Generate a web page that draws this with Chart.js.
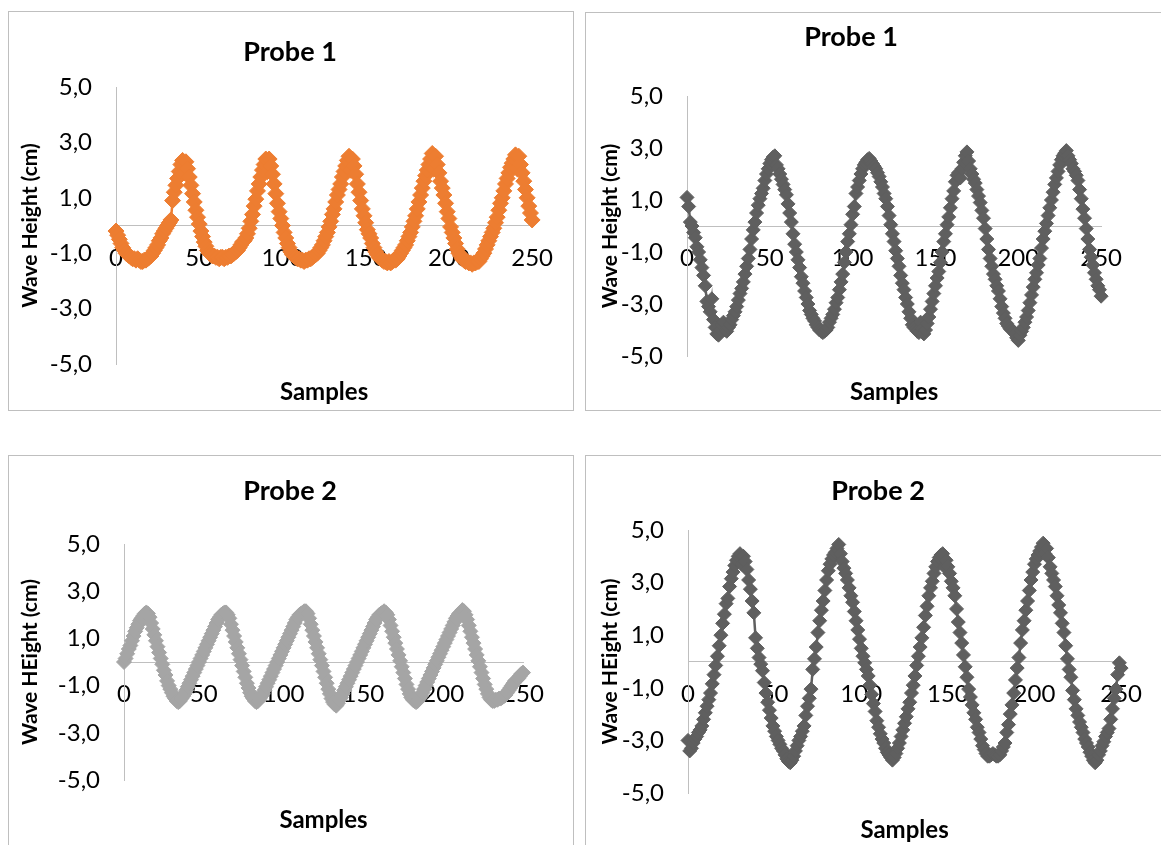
<!DOCTYPE html>
<html><head><meta charset="utf-8">
<script src="https://cdn.jsdelivr.net/npm/chart.js@4.4.1/dist/chart.umd.min.js"></script>
<style>
html,body{margin:0;padding:0;background:#fff;width:1161px;height:845px;overflow:hidden;position:relative}
.panel{position:absolute;border:1px solid #BFBFBF;box-sizing:border-box}
canvas{position:absolute}
</style></head><body>
<div class="panel" style="left:8px;top:11px;width:566px;height:400px"></div>
<div class="panel" style="left:585px;top:12px;width:600px;height:399px"></div>
<div class="panel" style="left:8px;top:455px;width:566px;height:400px"></div>
<div class="panel" style="left:585px;top:455px;width:600px;height:400px"></div>
<canvas id="c1" width="562" height="397" style="left:9px;top:12px"></canvas>
<canvas id="c2" width="578" height="396" style="left:562px;top:13px"></canvas>
<canvas id="c3" width="562" height="389" style="left:9px;top:456px"></canvas>
<canvas id="c4" width="564" height="389" style="left:596px;top:456px"></canvas>
<script>
const samplesTicks = [0, 50, 100, 150, 200, 250];
const heightTicks = [-5, -3, -1, 1, 3, 5];

// Probe 1, top-left (orange)
const probe1Left = [
-0.2,-0.35,-0.5,-0.65,-0.8,-0.9,-1.0,-1.05,-1.1,-1.15,
-1.2,-1.2,-1.25,-1.2,-1.25,-1.3,-1.3,-1.25,-1.25,-1.2,
-1.15,-1.1,-1.0,-0.9,-0.8,-0.7,-0.55,-0.45,-0.3,-0.2,
-0.1,0.0,0.1,0.2,0.9,1.2,1.45,1.7,1.95,2.2,
2.35,1.9,2.3,2.05,1.75,1.45,1.15,0.85,0.55,0.3,
0.05,-0.2,-0.4,-0.6,-0.75,-0.9,-1.0,-1.05,-1.1,-1.1,
-1.15,-1.15,-1.2,-1.15,-1.15,-1.2,-1.15,-1.15,-1.1,-1.1,
-1.05,-1.0,-0.95,-0.9,-0.8,-0.7,-0.6,-0.55,-0.45,-0.3,
-0.1,0.15,0.4,0.7,0.95,1.25,1.5,1.75,2.0,2.2,
2.4,1.95,2.4,2.15,1.85,1.5,1.15,0.8,0.5,0.25,
0.0,-0.25,-0.45,-0.65,-0.8,-0.95,-1.05,-1.1,-1.15,-1.2,
-1.2,-1.25,-1.25,-1.3,-1.25,-1.25,-1.2,-1.2,-1.15,-1.1,
-1.05,-1.0,-0.9,-0.8,-0.7,-0.55,-0.4,-0.25,-0.05,0.15,
0.4,0.6,0.85,1.1,1.3,1.5,1.75,1.95,2.15,2.35,
2.5,2.0,2.4,2.15,1.85,1.5,1.2,0.9,0.6,0.35,
0.1,-0.15,-0.3,-0.45,-0.65,-0.8,-0.95,-1.05,-1.15,-1.2,
-1.25,-1.3,-1.3,-1.35,-1.3,-1.35,-1.3,-1.25,-1.25,-1.2,
-1.1,-1.0,-0.9,-0.8,-0.7,-0.55,-0.4,-0.25,-0.05,0.15,
0.35,0.6,0.85,1.1,1.35,1.6,1.8,2.0,2.2,2.4,
2.6,2.05,2.5,2.2,1.9,1.6,1.35,1.1,0.8,0.5,
0.25,-0.05,-0.25,-0.45,-0.65,-0.85,-1.0,-1.1,-1.2,-1.25,
-1.3,-1.3,-1.35,-1.35,-1.4,-1.35,-1.35,-1.3,-1.3,-1.2,
-1.1,-1.0,-0.85,-0.7,-0.55,-0.4,-0.25,-0.1,0.1,0.3,
0.55,0.8,1.0,1.25,1.5,1.7,1.9,2.1,2.25,2.4,
2.55,2.05,2.5,2.2,1.9,1.6,1.3,1.0,0.7,0.45,
0.2];

// Probe 1, top-right (dark grey)
const probe1Right = [
1.1,0.75,0.15,0.0,-0.25,-0.45,-0.8,-1.0,-1.3,-1.6,
-1.9,-2.3,-2.9,-3.1,-3.3,-2.8,-3.6,-3.9,-4.15,-4.2,
-4.0,-3.8,-3.7,-4.0,-4.05,-3.9,-3.8,-3.6,-3.45,-3.3,
-3.1,-2.85,-2.6,-2.4,-2.15,-1.85,-1.55,-1.25,-0.9,-0.5,
-0.15,0.15,0.5,0.8,1.05,1.25,1.45,1.75,2.0,2.2,
2.4,2.55,2.65,2.7,2.35,2.2,2.0,1.8,1.6,1.4,
1.2,0.85,0.5,0.15,-0.3,-0.7,-1.0,-1.3,-1.6,-1.95,
-2.2,-2.5,-2.75,-3.0,-3.25,-3.4,-3.55,-3.65,-3.8,-3.9,
-4.0,-4.05,-4.1,-4.05,-4.0,-3.9,-3.7,-3.55,-3.4,-3.2,
-2.95,-2.75,-2.45,-2.15,-1.85,-1.4,-1.0,-0.6,-0.3,0.05,
0.45,0.75,1.25,1.5,1.75,2.0,2.2,2.35,2.45,2.55,
2.6,2.5,2.4,2.3,2.2,2.05,1.9,1.7,1.5,1.25,
1.05,0.75,0.4,0.05,-0.3,-0.6,-0.95,-1.25,-1.55,-1.9,
-2.2,-2.45,-2.75,-3.0,-3.3,-3.55,-3.8,-3.9,-3.95,-4.05,
-4.1,-3.7,-3.95,-4.15,-4.0,-3.75,-3.5,-3.2,-2.9,-2.6,
-2.3,-2.0,-1.75,-1.4,-1.0,-0.6,-0.3,0.05,0.35,0.7,
1.05,1.35,1.7,1.95,2.05,1.85,2.2,2.45,2.7,2.85,
2.5,2.2,2.0,1.8,1.65,1.4,1.15,0.9,0.6,0.3,
-0.1,-0.5,-0.9,-1.25,-1.55,-1.85,-2.05,-2.3,-2.5,-2.8,
-3.1,-3.35,-3.55,-3.75,-3.85,-3.95,-4.0,-4.05,-4.15,-4.3,
-4.4,-4.2,-4.05,-3.9,-3.7,-3.5,-3.25,-2.95,-2.65,-2.35,
-2.05,-1.8,-1.5,-1.25,-0.85,-0.5,-0.2,0.1,0.4,0.7,
1.0,1.3,1.6,1.85,2.1,2.35,2.55,2.7,2.8,2.9,
2.7,2.55,2.4,2.2,2.1,1.95,1.75,1.4,1.05,0.65,
0.3,-0.1,-0.5,-0.9,-1.2,-1.5,-1.8,-2.05,-2.3,-2.45,
-2.7];

// Probe 2, bottom-left (light grey)
const probe2Left = [
0.0,0.15,0.35,0.55,0.7,0.9,1.1,1.3,1.45,1.6,
1.75,1.85,1.95,2.05,2.1,2.05,1.9,1.65,1.4,1.15,
0.9,0.65,0.4,0.15,-0.1,-0.35,-0.55,-0.8,-1.0,-1.15,
-1.3,-1.45,-1.55,-1.65,-1.7,-1.65,-1.55,-1.45,-1.35,-1.2,
-1.05,-0.9,-0.75,-0.6,-0.45,-0.3,-0.15,0.0,0.15,0.3,
0.45,0.6,0.75,0.9,1.05,1.2,1.35,1.5,1.65,1.8,
1.9,2.0,2.05,2.1,2.1,2.0,1.85,1.6,1.35,1.1,
0.85,0.6,0.35,0.1,-0.15,-0.4,-0.65,-0.9,-1.1,-1.3,
-1.45,-1.55,-1.65,-1.7,-1.65,-1.55,-1.45,-1.35,-1.2,-1.05,
-0.9,-0.75,-0.6,-0.45,-0.3,-0.15,0.0,0.15,0.3,0.45,
0.6,0.75,0.9,1.05,1.2,1.35,1.5,1.65,1.8,1.9,
2.0,2.05,2.1,2.15,2.15,2.05,1.85,1.6,1.35,1.1,
0.85,0.6,0.35,0.1,-0.15,-0.4,-0.65,-0.9,-1.15,-1.35,
-1.55,-1.7,-1.8,-1.85,-1.75,-1.6,-1.5,-1.35,-1.2,-1.05,
-0.9,-0.75,-0.6,-0.45,-0.3,-0.15,0.0,0.15,0.3,0.45,
0.6,0.75,0.9,1.05,1.2,1.35,1.5,1.65,1.8,1.9,
2.0,2.05,2.1,2.15,2.1,2.0,1.8,1.55,1.3,1.05,
0.8,0.55,0.3,0.05,-0.2,-0.45,-0.7,-0.95,-1.15,-1.35,
-1.5,-1.6,-1.65,-1.7,-1.65,-1.55,-1.45,-1.3,-1.15,-1.0,
-0.85,-0.7,-0.55,-0.4,-0.25,-0.1,0.05,0.2,0.35,0.5,
0.65,0.8,0.95,1.1,1.25,1.4,1.55,1.7,1.85,1.95,
2.05,2.1,2.2,2.15,2.0,1.8,1.55,1.3,1.05,0.8,
0.55,0.3,0.05,-0.2,-0.45,-0.7,-0.95,-1.15,-1.35,-1.5,
-1.6,-1.65,-1.65,-1.6,-1.6,-1.55,-1.55,-1.5,-1.45,-1.4,
-1.3,-1.2,-1.1,-1.0,-0.9,-0.8,-0.75,-0.7,-0.6,-0.5,
-0.45];

// Probe 2, bottom-right (dark grey)
const probe2Right = [
-3.0,-3.4,-3.3,-3.1,-2.95,-2.85,-2.7,-2.6,-2.45,-2.2,
-1.95,-1.7,-1.45,-1.2,-0.85,-0.5,-0.15,0.2,0.6,1.0,
1.45,1.8,2.2,2.4,2.85,3.15,3.4,3.65,3.85,4.0,
4.1,3.7,4.0,3.8,3.5,3.1,2.75,2.3,1.85,0.9,
0.5,0.15,-0.1,-0.35,-0.8,-1.2,-1.55,-1.85,-2.15,-2.45,
-2.65,-2.85,-3.0,-3.15,-3.3,-3.4,-3.55,-3.7,-3.8,-3.85,
-3.75,-3.6,-3.4,-3.2,-3.0,-2.85,-2.65,-2.45,-2.05,-1.7,
-1.4,-1.05,-0.3,0.1,0.55,1.1,1.55,1.95,2.3,2.7,
3.1,3.45,3.7,3.9,4.05,4.15,4.3,4.45,4.1,3.8,
3.55,3.35,3.1,2.8,2.5,2.25,1.9,1.55,1.2,0.85,
0.5,0.2,-0.05,-0.3,-0.55,-0.9,-1.25,-1.6,-1.9,-2.25,
-2.5,-2.75,-2.95,-3.1,-3.3,-3.45,-3.55,-3.65,-3.75,-3.65,
-3.5,-3.3,-3.1,-2.85,-2.6,-2.35,-2.1,-1.8,-1.55,-1.2,
-0.9,-0.55,-0.15,0.2,0.55,0.9,1.3,1.75,2.1,2.5,
2.8,3.05,3.35,3.6,3.8,3.95,4.05,4.1,3.6,3.85,
3.6,3.35,3.05,2.8,2.5,2.0,1.5,1.1,0.7,0.25,
-0.2,-0.6,-1.05,-1.35,-1.65,-1.95,-2.2,-2.5,-2.7,-2.95,
-3.2,-3.35,-3.5,-3.6,-3.6,-3.55,-3.5,-3.55,-3.6,-3.6,
-3.55,-3.4,-3.25,-3.1,-2.7,-2.4,-2.0,-1.65,-1.2,-0.7,
-0.25,0.15,0.7,1.2,1.55,1.95,2.3,2.7,3.1,3.4,
3.7,3.9,4.05,4.2,4.35,4.5,4.1,4.3,3.95,3.6,
3.35,3.1,2.85,2.5,2.15,1.85,1.45,1.1,0.6,0.1,
-0.3,-0.6,-1.1,-1.45,-1.8,-2.05,-2.3,-2.5,-2.7,-2.95,
-3.1,-3.25,-3.45,-3.6,-3.75,-3.85,-3.75,-3.55,-3.4,-3.2,
-3.05,-2.85,-2.7,-2.55,-2.2,-1.8,-1.4,-1.05,-0.5,-0.05,
-0.25];

const FONT = 'Lato, "Open Sans", sans-serif';
const AXIS = '#BFBFBF';

function makeChart(id, values, o) {
  const pts = values.map((v, i) => ({x: i, y: v}));
  return new Chart(document.getElementById(id), {
    type: 'scatter',
    data: {datasets: [{
      data: pts, showLine: true, clip: false,
      borderColor: o.color, backgroundColor: o.color, borderWidth: 2.5,
      pointStyle: 'rectRot', pointRadius: o.r, pointBorderWidth: 1,
      pointBorderColor: o.color, pointBackgroundColor: o.color,
      xAxisID: 'x', yAxisID: 'y'
    }]},
    options: {
      responsive: false, animation: false, devicePixelRatio: 1,
      layout: {padding: 0},
      plugins: {
        legend: {display: false}, tooltip: {enabled: false},
        title: {display: true, text: o.title, color: '#000',
          font: {family: FONT, size: 27, weight: 'bold', lineHeight: 1.2},
          padding: {top: o.tTop, bottom: o.tBottom}}
      },
      scales: {
        x: {type: 'linear', position: {y: 0}, min: 0, max: 250,
          grid: {display: false, drawTicks: false},
          border: {display: true, color: AXIS, width: 1},
          afterBuildTicks: s => { s.ticks = samplesTicks.map(v => ({value: v})); },
          ticks: {color: '#000', font: {family: FONT, size: 24}, padding: 18, maxRotation: 0, autoSkip: false}},
        y: {type: 'linear', position: 'left', min: -5, max: 5,
          grid: {display: false, drawTicks: false},
          border: {display: true, color: AXIS, width: 1},
          afterBuildTicks: s => { s.ticks = heightTicks.map(v => ({value: v})); },
          ticks: {color: '#000', font: {family: FONT, size: 24}, padding: 24,
            callback: v => v.toFixed(1).replace('.', ',')},
          title: {display: true, text: o.yTitle, color: '#000',
            font: {family: FONT, size: 21, weight: 'bold', lineHeight: 1.2},
            padding: {top: o.yPad, bottom: 0}},
          afterFit: s => { s.width = o.yW; }},
        x2: {type: 'linear', position: 'bottom', min: 0, max: 250,
          grid: {display: false, drawTicks: false}, border: {display: false},
          ticks: {display: false},
          title: {display: true, text: 'Samples', color: '#000',
            font: {family: FONT, size: 24, weight: 'bold', lineHeight: 1.2},
            padding: {top: 0, bottom: o.xPad}},
          afterFit: s => { s.height = o.x2H; }},
        y2: {type: 'linear', position: 'right', min: 0, max: 1,
          grid: {display: false, drawTicks: false}, border: {display: false},
          ticks: {display: false},
          afterFit: s => { s.width = o.y2W; }}
      }
    }
  });
}

makeChart('c1', probe1Left, {color: '#ED7D31', r: 8, title: 'Probe 1', yTitle: 'Wave Height (cm)',
  tTop: 23.8, tBottom: 18.8, yW: 107, yPad: 8.4, x2H: 45, xPad: 2.6, y2W: 37});
makeChart('c2', probe1Right, {color: '#5F5F5F', r: 7, title: 'Probe 1', yTitle: 'Wave Height (cm)',
  tTop: 7.8, tBottom: 42.8, yW: 125, yPad: 35.4, x2H: 53, xPad: 2.6, y2W: 10});
makeChart('c3', probe2Left, {color: '#A5A5A5', r: 7.5, title: 'Probe 2', yTitle: 'Wave HEight (cm)',
  tTop: 18.8, tBottom: 36.8, yW: 115, yPad: 8.4, x2H: 65, xPad: 10.6, y2W: 48});
makeChart('c4', probe2Right, {color: '#5F5F5F', r: 7, title: 'Probe 2', yTitle: 'Wave HEight (cm)',
  tTop: 18.8, tBottom: 22.8, yW: 92, yPad: 1.4, x2H: 52, xPad: 0, y2W: 30});
</script>
</body></html>
